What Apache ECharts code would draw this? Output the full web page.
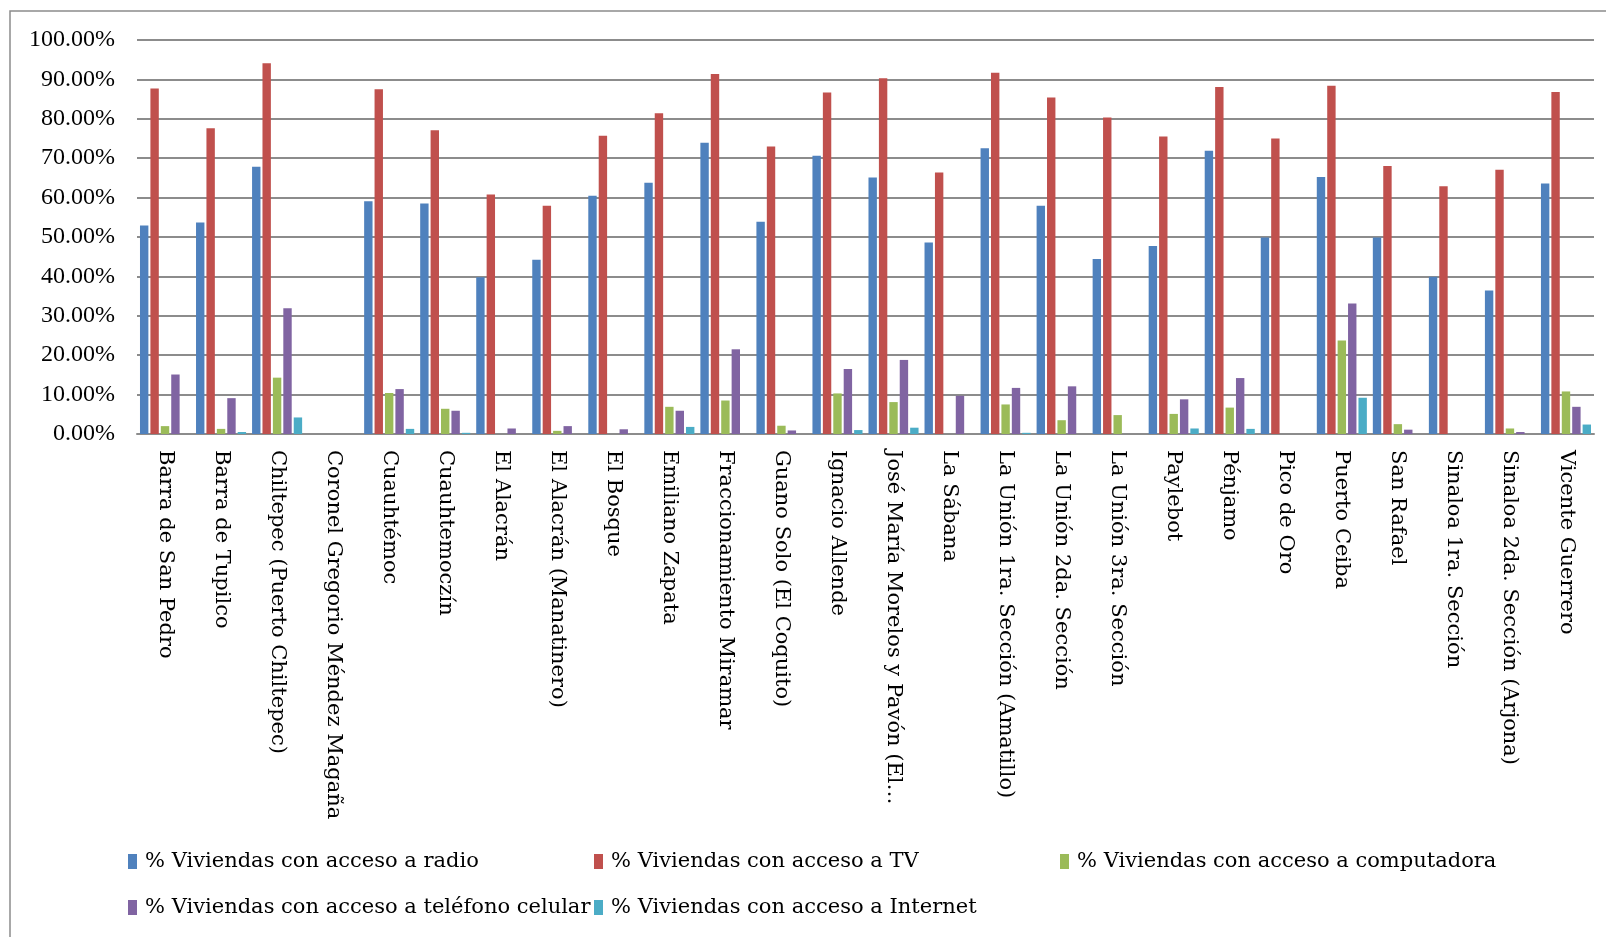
<!DOCTYPE html>
<html>
<head>
<meta charset="utf-8">
<script src="https://cdn.jsdelivr.net/npm/echarts@6/dist/echarts.min.js"></script>
<style>
  html, body { margin: 0; padding: 0; background: #fff; }
  #chart { width: 1606px; height: 937px; }
</style>
</head>
<body>
<div id="chart"></div>
<script>
// localidades
var localidades = [
    'Barra de San Pedro', 'Barra de Tupilco', 'Chiltepec (Puerto Chiltepec)',
    'Coronel Gregorio Méndez Magaña', 'Cuauhtémoc', 'Cuauhtemoczín', 'El Alacrán',
    'El Alacrán (Manatinero)', 'El Bosque', 'Emiliano Zapata', 'Fraccionamiento Miramar',
    'Guano Solo (El Coquito)', 'Ignacio Allende', 'José María Morelos y Pavón (El…',
    'La Sábana', 'La Unión 1ra. Sección (Amatillo)', 'La Unión 2da. Sección',
    'La Unión 3ra. Sección', 'Paylebot', 'Pénjamo', 'Pico de Oro', 'Puerto Ceiba',
    'San Rafael', 'Sinaloa 1ra. Sección', 'Sinaloa 2da. Sección (Arjona)', 'Vicente Guerrero'
];

// % viviendas (0-100)
var radio = [52.9, 53.7, 67.8, 0, 59.1, 58.5, 39.8, 44.2, 60.5, 63.8, 73.9, 53.9, 70.6,
    65.1, 48.6, 72.5, 57.9, 44.4, 47.7, 71.9, 49.9, 65.2, 49.9, 39.9, 36.4, 63.6];
var tv = [87.7, 77.6, 94.1, 0, 87.5, 77.1, 60.8, 57.9, 75.7, 81.4, 91.4, 73.0, 86.7,
    90.3, 66.4, 91.7, 85.4, 80.3, 75.5, 88.1, 75.0, 88.4, 68.0, 62.9, 67.1, 86.8];
var computadora = [2.0, 1.3, 14.3, 0, 10.4, 6.4, 0, 0.8, 0, 6.9, 8.5, 2.1, 10.3,
    8.1, 0, 7.5, 3.5, 4.8, 5.1, 6.7, 0, 23.7, 2.5, 0, 1.4, 10.8];
var celular = [15.1, 9.1, 31.9, 0, 11.4, 5.9, 1.4, 2.0, 1.2, 5.9, 21.5, 0.9, 16.5,
    18.8, 9.7, 11.7, 12.1, 0, 8.8, 14.2, 0, 33.1, 1.1, 0, 0.5, 6.9];
var internet = [0, 0.5, 4.2, 0, 1.3, 0.3, 0, 0, 0, 1.8, 0, 0, 1.0,
    1.6, 0, 0.3, 0, 0, 1.4, 1.3, 0, 9.2, 0, 0, 0, 2.4];

var nombres = [
    '% Viviendas con acceso a radio',
    '% Viviendas con acceso a TV',
    '% Viviendas con acceso a computadora',
    '% Viviendas con acceso a teléfono celular',
    '% Viviendas con acceso a Internet'
];
var colores = ['#4F81BD', '#C0504D', '#9BBB59', '#8064A2', '#4BACC6'];
var valores = [radio, tv, computadora, celular, internet];

var fuenteEje = '"Liberation Serif", serif';
var fuente = '"DejaVu Serif", serif';

// posiciones de la leyenda (3 columnas, 2 filas)
var legendPos = [[128, 851], [594, 851], [1060, 851], [128, 897], [594, 897]];

var chart = echarts.init(document.getElementById('chart'));

chart.setOption({
    animation: false,
    graphic: [{
        type: 'rect',
        shape: { x: 10, y: 11, width: 1700, height: 1000 },
        style: { fill: 'none', stroke: '#8c8c8c', lineWidth: 1.5 },
        silent: true
    }],
    legend: nombres.map(function (n, i) {
        return {
            data: [n],
            left: legendPos[i][0],
            top: legendPos[i][1],
            icon: 'rect',
            itemWidth: 9,
            itemHeight: 15,
            padding: 0,
            textStyle: {
                fontFamily: fuente, fontSize: 21, color: '#000',
                padding: [0, 0, 0, 3]
            }
        };
    }),
    grid: {
        left: 137,
        right: 12,
        top: 40,
        bottom: 503
    },
    xAxis: {
        type: 'category',
        data: localidades,
        axisLine: { lineStyle: { color: '#8c8c8c', width: 2 } },
        axisTick: { show: false },
        axisLabel: {
            rotate: -90,
            interval: 0,
            margin: 16,
            fontFamily: fuente,
            fontSize: 21,
            color: '#000'
        }
    },
    yAxis: {
        type: 'value',
        min: 0,
        max: 100,
        interval: 10,
        axisLine: { show: false },
        axisTick: { show: false },
        splitLine: { lineStyle: { color: '#8c8c8c', width: 2 } },
        axisLabel: {
            margin: 22,
            fontFamily: fuenteEje,
            fontSize: 24,
            color: '#000',
            formatter: function (v) { return v.toFixed(2) + '%'; }
        }
    },
    series: valores.map(function (vals, i) {
        return {
            name: nombres[i],
            type: 'bar',
            data: vals,
            barWidth: 8.4,
            barGap: '24%',
            itemStyle: { color: colores[i] }
        };
    })
});
</script>
</body>
</html>
